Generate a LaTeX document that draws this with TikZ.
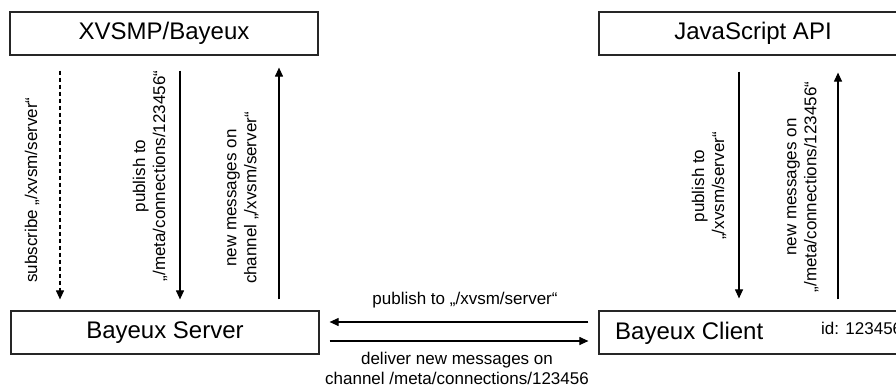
\documentclass[tikz,border=0pt]{standalone}
\usepackage{fontspec}
\setmainfont{Liberation Sans}
\usetikzlibrary{arrows.meta}
\begin{document}
\begin{tikzpicture}[x=1pt,y=-1pt,
  box/.style={draw=black!85, line width=1.2pt, fill=white,
    minimum width=308pt, minimum height=43pt, inner sep=0pt,
    font=\fontsize{24}{28}\selectfont},
  lbl/.style={font=\fontsize{17}{20}\selectfont, align=center, inner sep=0pt, text=black},
  msg/.style={-{Triangle[length=9pt,width=8pt]}, line width=1.1pt, black},
  sub/.style={msg, dash pattern=on 4pt off 3pt}]
  \clip (0,0) rectangle (896,391);
  \fill[white] (0,0) rectangle (896,391);

  % the four parties
  \node[box] (xb)  at (164,33.5)  {XVSMP/Bayeux};
  \node[box] (js)  at (753,33.5)  {JavaScript API};
  \node[box] (srv) at (165,332.5) {Bayeux Server};
  \node[box] (cli) at (753,332.5) {};
  \node[anchor=west, inner sep=0pt, font=\fontsize{24}{28}\selectfont] (cliname) at (615,333) {Bayeux Client};
  \node[lbl, anchor=west] (cliid) at (821,328) {id: 123456};

  % columns of the vertical messages
  \coordinate (c1) at (60,0);
  \coordinate (c2) at (180,0);
  \coordinate (c3) at (279,0);
  \coordinate (c4) at (739,0);
  \coordinate (c5) at (838,0);

  % XVSMP/Bayeux <-> Bayeux Server
  \draw[sub, shorten <=15pt, shorten >=11pt] (xb.south -| c1) -- (srv.north -| c1);
  \draw[msg, shorten <=15pt, shorten >=11pt] (xb.south -| c2) -- (srv.north -| c2);
  \draw[msg, shorten <=11pt, shorten >=12pt] (srv.north -| c3) -- (xb.south -| c3);

  % JavaScript API <-> Bayeux Client
  \draw[msg, shorten <=16pt, shorten >=12pt] (js.south -| c4) -- (cli.north -| c4);
  \draw[msg, shorten <=11pt, shorten >=17pt] (cli.north -| c5) -- (js.south -| c5);

  % Bayeux Client <-> Bayeux Server
  \draw[msg, shorten <=10pt, shorten >=10pt] ([yshift=10.5pt]cli.west) -- ([yshift=10.5pt]srv.east);
  \draw[msg, shorten <=10pt, shorten >=10pt] ([yshift=-8.5pt]srv.east) -- ([yshift=-8.5pt]cli.west);

  % message labels
  \node[lbl, rotate=90] (l1) at (32,190) {subscribe „/xvsm/server“};
  \node[lbl, rotate=90] (l2) at (150,176) {publish to\\„/meta/connections/123456“};
  \node[lbl, rotate=90] (l3) at (243,198) {new messages on\\channel „/xvsm/server“};
  \node[lbl, rotate=90] (l4) at (709,186) {publish to\\„/xvsm/server“};
  \node[lbl, rotate=90] (l5) at (803,187) {new messages on\\„/meta/connections/123456“};
  \node[lbl] (l6) at (465,300.5) {publish to „/xvsm/server“};
  \node[lbl] (l7) at (457,368) {deliver new messages on\\channel /meta/connections/123456};
\end{tikzpicture}
\end{document}
